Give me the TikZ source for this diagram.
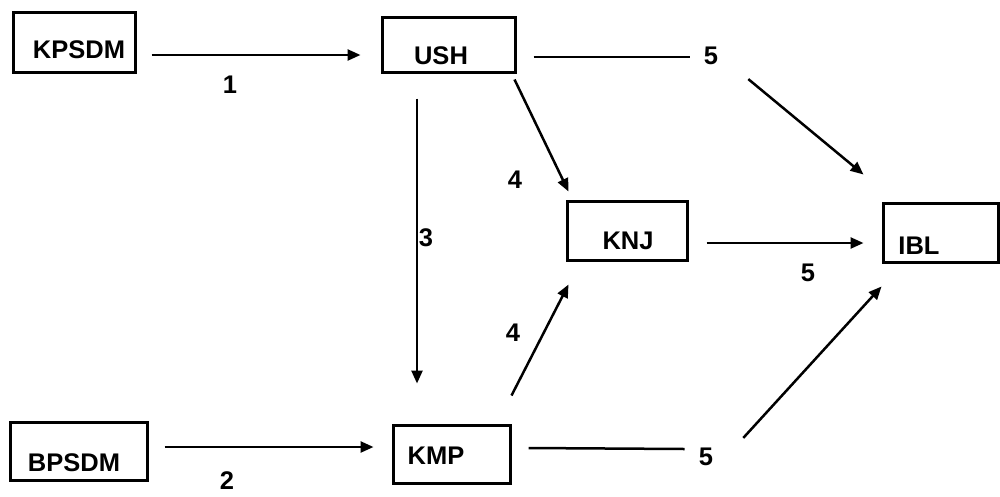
\documentclass[tikz,border=0pt]{standalone}
\usepackage{fontspec}
\setmainfont{Liberation Sans}
\usetikzlibrary{arrows.meta,calc}
\tikzset{
  boxnode/.style={draw=black, line width=3pt, inner sep=0pt},
  txt/.style={inner sep=0pt, font=\fontsize{25.5}{30}\selectfont\bfseries},
  conn/.style={line width=2.5pt, draw=black},
  arr/.style={conn, -{Triangle[length=13pt,width=11pt]}}
}
\begin{document}
\begin{tikzpicture}[x=1pt,y=-1pt]
\useasboundingbox (0,0) rectangle (1000,496);
% boxes
\node[boxnode, minimum width=122pt, minimum height=60pt] (kpsdm) at (74,42) {};
\node[boxnode, minimum width=133pt, minimum height=55pt] (ush) at (448.5,44.5) {};
\node[boxnode, minimum width=120pt, minimum height=59pt] (knj) at (627,230.5) {};
\node[boxnode, minimum width=115pt, minimum height=59pt] (ibl) at (940.5,232.5) {};
\node[boxnode, minimum width=137pt, minimum height=58pt] (bpsdm) at (78.5,451) {};
\node[boxnode, minimum width=117pt, minimum height=58pt] (kmp) at (451.5,454) {};
% box texts
\node[txt] (kpsdmt) at (79,50) {KPSDM};
\node[txt] (usht) at (441,56) {USH};
\node[txt] (knjt) at (628,241) {KNJ};
\node[txt] (iblt) at (919,246) {IBL};
\node[txt] (bpsdmt) at (74,463) {BPSDM};
\node[txt] (kmpt) at (436,456) {KMP};
% labels
\node[txt] (l1) at (230,85) {1};
\node[txt] (l2) at (227,481) {2};
\node[txt] (l3) at (426,238) {3};
\node[txt] (l4a) at (515,180) {4};
\node[txt] (l4b) at (513,333) {4};
\node[txt] (l5a) at (711,56) {5};
\node[txt] (l5b) at (808,273) {5};
\node[txt] (l5c) at (706,457) {5};
% connectors
\draw[arr] ($(kpsdm.east)+(15,13)$) -- ($(ush.west)+(-20,10.5)$);
\draw[arr] ($(bpsdm.east)+(16,-4)$) -- ($(kmp.west)+(-18,-7)$);
\draw[arr] ($(ush.south)+(-31.5,25)$) -- ($(kmp.north)+(-34.5,-40)$);
\draw[arr] ($(ush.south east)+(-2,6)$) -- ($(knj.north west)+(3,-8)$);
\draw[arr] ($(kmp.north east)+(0,-28)$) -- ($(knj.south west)+(3,23)$);
\draw[conn] ($(ush.east)+(17,12.5)$) -- ($(l5a.west)+(-14,1)$);
\draw[arr] ($(l5a.south east)+(30,14)$) -- ($(ibl.north west)+(-18,-27)$);
\draw[arr] ($(knj.east)+(18,12.5)$) -- ($(ibl.west)+(-18,10.5)$);
\draw[conn] ($(kmp.east)+(17,-6)$) -- ($(l5c.west)+(-14,-8)$);
\draw[arr] ($(l5c.north east)+(30,-10)$) -- ($(ibl.south west)+(0,23)$);
\end{tikzpicture}
\end{document}
